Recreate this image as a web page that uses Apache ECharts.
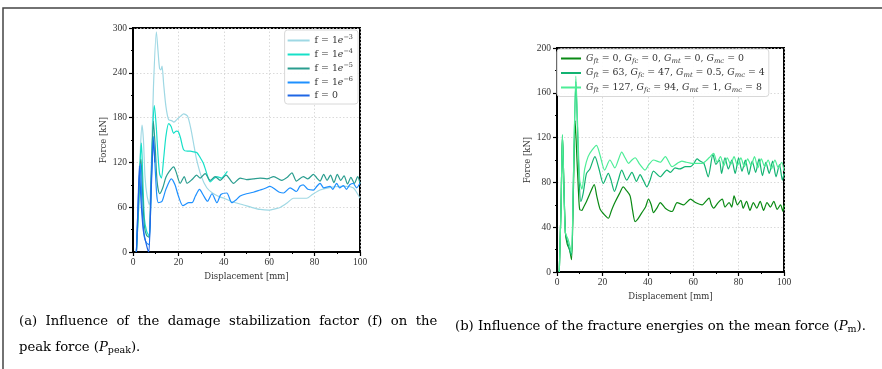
<!DOCTYPE html>
<html><head><meta charset="utf-8">
<script src="https://cdn.jsdelivr.net/npm/echarts@6/dist/echarts.min.js"></script>
<style>html,body{margin:0;padding:0;background:#fff}#c{width:882px;height:369px}</style>
</head><body><div id="c"></div>
<script>
// ---------- data ----------
const leftTicksY = [0, 60, 120, 180, 240, 300];
const rightTicksY = [0, 40, 80, 120, 160, 200];
const xTicks = [0, 20, 40, 60, 80, 100];
const leftNames = ['f = 1e^-3', 'f = 1e^-4', 'f = 1e^-5', 'f = 1e^-6', 'f = 0'];
const rightNames = ['Gft = 0, Gfc = 0, Gmt = 0, Gmc = 0', 'Gft = 63, Gfc = 47, Gmt = 0.5, Gmc = 4', 'Gft = 127, Gfc = 94, Gmt = 1, Gmc = 8'];

const f1e3 = [[1.5,0],[2.5,60],[3.3,140],[4,170],[4.6,150],[5.3,100],[6.2,75],[7.2,63],[8,110],[9,220],[10.3,295],[11,270],[11.7,246],[12.3,244],[12.8,249],[13.5,225],[14.5,195],[15.7,177],[17,176],[18,174],[19.5,178],[21,182],[22.3,185],[24,182],[25.5,165],[27,140],[28,124],[30,102],[32.5,86],[35,79],[38,74],[40,72],[44,67],[48.7,63],[52,60],[56,57],[59.7,56],[63,58],[65,60],[68,66],[70.7,72],[73,72],[76.5,72],[79,77],[82.4,83],[86,86],[91.2,88],[94,88],[97,86],[98.5,80],[100,72]];
const f1e4 = [[1.5,0],[2.5,60],[3.2,125],[3.7,146],[4.3,100],[5,45],[6,28],[7.2,21],[8,90],[8.8,170],[9.4,196],[10.2,170],[11,130],[11.7,105],[12.5,99],[13.5,125],[14.5,155],[15.7,172],[16.8,168],[17.9,159],[19,162],[20,161],[21,152],[22.3,137],[24,135],[25.2,135],[27,134],[28.2,133],[29.5,127],[31,119],[32.5,105],[34,94],[35.5,98],[37,101],[38,100],[39,99],[40.3,103],[41.6,108]];
const f1e5 = [[1.5,0],[2.5,70],[3,110],[3.5,124],[4.2,80],[5,35],[6,22],[7,20],[8,100],[9,175],[9.8,140],[10.6,95],[11.7,78],[13,85],[14.5,100],[16,108],[17.9,114],[19,107],[20.8,92],[22.6,101],[23.8,92],[26,97],[28,103],[29.6,99],[31.8,105],[34,96],[36.2,101],[38.4,96],[41,103],[44.3,92],[47.2,99],[50,97],[53,98],[56,99],[59,98],[62,101],[65.5,96],[68,100],[70,106],[72,95],[75,101],[77,98],[79.5,104],[81,99],[82.4,95],[84,104],[85.5,96],[87,103],[88.5,93],[90,104],[91.5,96],[93,102],[94.5,91],[96,100],[97.5,92],[99,101],[100,92]];
const f1e6 = [[1.5,0],[2.3,70],[3,110],[3.3,118],[4,60],[5,20],[6,12],[7,10],[8,90],[9,155],[9.8,110],[10.5,75],[11.2,66],[12.8,68],[14.5,84],[16.9,98],[18.5,90],[20,75],[22,62],[24.5,66],[26,66],[27.5,75],[29.3,84],[31,76],[32.8,68],[34.8,78],[37,66],[38.7,77],[41.3,79],[43.5,66],[45.5,70],[47.2,75],[50,78],[53,80],[56,83],[58,85],[60.4,88],[63,83],[64.5,80],[66.3,79],[69.2,86],[72,81],[73.5,88],[75,90],[77,84],[79.5,83],[81,88],[82.4,92],[84,86],[86.8,88],[88,84],[89.7,92],[91,86],[92.7,89],[94,84],[95.5,90],[97,92],[98.5,86],[100,92]];
const f0 = [[1.5,0],[2.2,60],[2.8,115],[3.5,70],[4.5,30],[5.5,15],[6.5,3],[7,0],[8,80],[9,150],[9.6,120]];

const g0 = [[1,0],[1.8,60],[2.4,122],[3,80],[3.7,35],[4.5,25],[5.5,20],[6.4,11],[7.2,70],[8,135],[8.8,100],[9.5,70],[10,56],[11,55],[11.5,57],[13,63],[14.5,70],[16.4,78],[17.5,68],[19,56],[20.5,52],[22.6,48],[24,55],[25.5,62],[27.5,70],[29.2,76],[30.5,73],[32.2,68],[33.3,55],[34.4,45],[35.5,47],[37.4,53],[39,58],[40.3,65],[41.5,60],[42.5,53],[44,57],[45.5,62],[47.7,57],[50.7,54],[52.9,62],[55.8,60],[58.8,65],[61,62],[64,60],[65.5,63],[67,66],[68,60],[69,57],[71,62],[72.8,65],[74,58],[75.8,62],[77,58],[78,68],[79.5,60],[81,64],[82,57],[83.5,63],[85,55],[86.5,62],[88,57],[89.5,63],[91,55],[92.5,62],[94,58],[95.5,63],[97,56],[98.5,60],[99.5,54],[100,60]];
const g63 = [[1,0],[1.8,60],[2.4,122],[3,80],[3.7,35],[4.5,28],[5.5,20],[6.4,15],[7.2,80],[8.3,170],[9,130],[9.8,80],[10.5,63],[11.5,70],[13,88],[14.5,92],[16.7,103],[18.5,92],[20.4,79],[22.6,88],[23.8,82],[25.3,72],[27,82],[28.5,91],[30.7,82],[33,89],[35,81],[36.6,87],[38,82],[39.6,76],[41,82],[42.5,90],[45.5,85],[48.4,91],[50,89],[52,93],[54,92],[56.6,94],[58.8,94],[60,96],[61.7,101],[63,99],[64.7,97],[66.6,85],[68.7,105],[70,96],[71.5,100],[72.5,88],[74,102],[75.5,92],[77,100],[78.5,88],[80,102],[81.5,90],[83,100],[84.5,87],[86,99],[87.5,89],[89,101],[90.5,86],[92,98],[93.5,88],[95,99],[96.5,85],[98,96],[99.3,82],[100,88]];
const g127 = [[1,0],[1.8,60],[2.4,123],[3,80],[3.7,35],[4.9,29],[5.8,22],[6.4,17],[7.3,90],[8.3,175],[9.1,130],[10,82],[11,74],[12.2,92],[13.7,103],[15.5,109],[17.4,113],[19,104],[21,91],[23.3,100],[25.5,93],[27,100],[28.5,107],[30,102],[31.5,97],[33,100],[34.4,102],[36.5,96],[38.8,91],[40.5,96],[42.5,100],[45.5,98],[47.7,103],[50.7,94],[53,97],[55,99],[57,98],[59.5,97],[62,97],[64,97],[65.5,99],[67,102],[69,106],[70.5,98],[72,103],[73.5,95],[75,102],[76.5,96],[78,103],[79.5,95],[81,102],[82.5,94],[84,101],[85.5,95],[87,103],[88.5,93],[90,101],[91.5,94],[93,100],[94.5,92],[96,100],[97.5,93],[99,98],[100,90]];

const captionA1 = '(a) Influence of the damage stabilization factor (f) on the';
const captionA2 = ['peak force (', 'P', 'peak', ').'];
const captionB = ['(b) Influence of the fracture energies on the mean force (', 'P', 'm', ').'];

// ---------- chart ----------
const FONT = 'Liberation Serif';
const WFONT = 'DejaVu Serif';
const leftColors = ['#9fd8e4', '#16e0c8', '#2a9d8f', '#1e90ff', '#1f66e5'];
const rightColors = ['#0a8a14', '#12b372', '#4ded97'];
const leftData = [f1e3, f1e4, f1e5, f1e6, f0];
const rightData = [g0, g63, g127];

function xAxis(gi) {
  return {
    gridIndex: gi, type: 'value', min: xTicks[0], max: xTicks[xTicks.length - 1], interval: 20,
    name: 'Displacement [mm]', nameLocation: 'middle', nameGap: 20,
    nameTextStyle: { fontFamily: WFONT, fontSize: 8.5, color: '#333' },
    axisLine: { show: true, onZero: false, lineStyle: { color: '#000', width: 2 } },
    axisTick: { show: true, inside: false, length: 4, lineStyle: { color: '#000', width: 1.2 } },
    minorTick: { show: true, splitNumber: 2, length: 2, lineStyle: { color: '#000', width: 1 } },
    axisLabel: { fontFamily: FONT, fontSize: 9.5, color: '#333', margin: 5 },
    splitLine: { show: true, lineStyle: { color: '#d0d0d0', type: [1.5, 2], width: 0.8 } }
  };
}
function yAxis(gi, ticks) {
  return {
    gridIndex: gi, type: 'value', min: ticks[0], max: ticks[ticks.length - 1], interval: ticks[1] - ticks[0],
    name: 'Force [kN]', nameLocation: 'middle', nameGap: 25, nameRotate: 90,
    nameTextStyle: { fontFamily: WFONT, fontSize: 8.5, color: '#333' },
    axisLine: { show: true, onZero: false, lineStyle: { color: '#000', width: 2 } },
    axisTick: { show: true, inside: false, length: 4, lineStyle: { color: '#000', width: 1.2 } },
    minorTick: { show: true, splitNumber: 2, length: 2, lineStyle: { color: '#000', width: 1 } },
    axisLabel: { fontFamily: FONT, fontSize: 9.5, color: '#333', margin: 6 },
    splitLine: { show: true, lineStyle: { color: '#d0d0d0', type: [1.5, 2], width: 0.8 } }
  };
}

const legRich = {
  n: { fontFamily: WFONT, fontSize: 9.4, color: '#333' },
  i: { fontFamily: WFONT, fontSize: 9.4, fontStyle: 'italic', color: '#333' },
  sup: { fontFamily: WFONT, fontSize: 6.5, color: '#333', padding: [0, 0, 6, 0] },
  sub: { fontFamily: WFONT, fontSize: 6.8, fontStyle: 'italic', color: '#333', padding: [5, 0, 0, 0] }
};
function leftFmt(name) {
  const m = name.match(/^f = 1e\^(.*)$/);
  if (m) return '{n|f = 1}{i|e}{sup|' + m[1].replace('-', '−') + '}';
  return '{n|' + name + '}';
}
function rightFmt(name) {
  return name.split(', ').map(p => {
    const m = p.match(/^G(\w+) = (.*)$/);
    return '{i|G}{sub|' + m[1] + '}{n| = ' + m[2] + '}';
  }).join('{n|, }');
}

const series = [];
leftData.forEach((d, k) => series.push({
  name: leftNames[k], type: 'line', xAxisIndex: 0, yAxisIndex: 0, data: d,
  showSymbol: false, symbol: 'none', smooth: 0.25, lineStyle: { width: 1.2, color: leftColors[k] },
  itemStyle: { color: leftColors[k] }, z: 3 + k, animation: false
}));
rightData.forEach((d, k) => series.push({
  name: rightNames[k], type: 'line', xAxisIndex: 1, yAxisIndex: 1, data: d,
  showSymbol: false, symbol: 'none', smooth: 0.25, lineStyle: { width: 1.2, color: rightColors[k] },
  itemStyle: { color: rightColors[k] }, z: 3 + k, animation: false
}));

const capRich = {
  n: { fontFamily: WFONT, fontSize: 13.2, color: '#111' },
  sp: { fontFamily: WFONT, fontSize: 13.2, color: '#111', width: 8.4 },
  i: { fontFamily: WFONT, fontSize: 13.2, fontStyle: 'italic', color: '#111' },
  s: { fontFamily: WFONT, fontSize: 9.5, color: '#111', padding: [7, 0, 0, 0] }
};
// justified first line: widen inter-word spaces
const capA1Rich = captionA1.split(' ').map(w => '{n|' + w + '}').join('{sp| }');

const chart = echarts.init(document.getElementById('c'), null, { renderer: 'canvas' });
chart.setOption({
  animation: false,
  backgroundColor: '#fff',
  grid: [
    { left: 133, top: 28, width: 227, height: 224, show: true, borderColor: '#000', borderWidth: 2, containLabel: false },
    { left: 557, top: 48, width: 227, height: 224, show: true, borderColor: '#000', borderWidth: 2, containLabel: false }
  ],
  xAxis: [xAxis(0), xAxis(1)],
  yAxis: [yAxis(0, leftTicksY), yAxis(1, rightTicksY)],
  legend: [
    {
      data: leftNames, orient: 'vertical', right: 882 - 358, top: 30, itemWidth: 22, itemHeight: 2, itemGap: 2,
      icon: 'rect', backgroundColor: 'rgba(255,255,255,0.9)', borderColor: '#d8d8d8', borderWidth: 1, borderRadius: 3,
      padding: [4, 5, 3, 3], formatter: leftFmt, textStyle: { rich: legRich, lineHeight: 11 }, selectedMode: false
    },
    {
      data: rightNames, orient: 'vertical', left: 557, top: 49, itemWidth: 20, itemHeight: 2, itemGap: 3,
      icon: 'rect', backgroundColor: 'rgba(255,255,255,0.9)', borderColor: '#d8d8d8', borderWidth: 1, borderRadius: 3,
      padding: [4, 4, 3, 4], formatter: rightFmt, textStyle: { rich: legRich, lineHeight: 11 }, selectedMode: false
    }
  ],
  series: series,
  graphic: [
    { type: 'polyline', shape: { points: [[3, 369], [3, 8], [882, 8]] }, style: { stroke: '#444', lineWidth: 1.5, fill: null }, silent: true },
    { type: 'text', left: 19, top: 315, style: { text: capA1Rich, rich: capRich } },
    { type: 'text', left: 19, top: 341, style: { text: '{n|' + captionA2[0] + '}{i|' + captionA2[1] + '}{s|' + captionA2[2] + '}{n|' + captionA2[3] + '}', rich: capRich } },
    { type: 'text', left: 455, top: 320, style: { text: '{n|' + captionB[0] + '}{i|' + captionB[1] + '}{s|' + captionB[2] + '}{n|' + captionB[3] + '}', rich: capRich } }
  ]
});
</script>
</body></html>
